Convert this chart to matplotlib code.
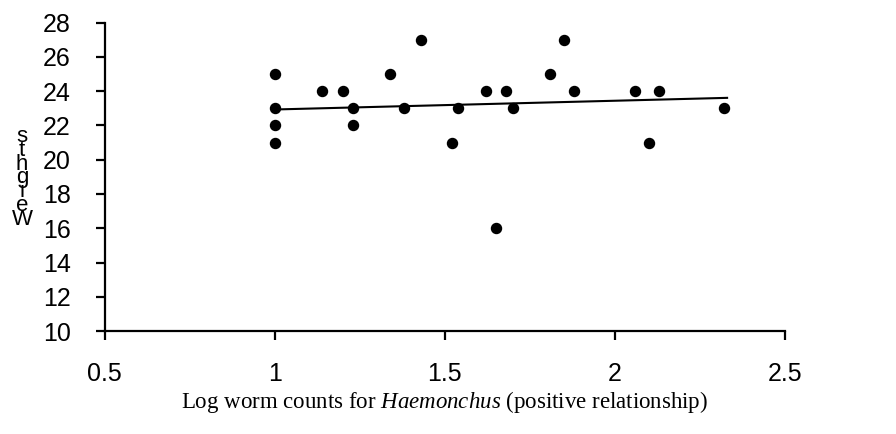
import matplotlib.pyplot as plt

plt.rcParams['font.family'] = ['Liberation Sans', 'DejaVu Sans']
plt.rcParams['mathtext.fontset'] = 'custom'
plt.rcParams['mathtext.it'] = 'Liberation Serif:italic'
plt.rcParams['mathtext.rm'] = 'Liberation Serif'

# log worm counts (Haemonchus) and weights
log_counts = [1.0, 1.0, 1.0, 1.0, 1.14, 1.20, 1.23, 1.23, 1.34, 1.43,
              1.38, 1.52, 1.54, 1.62, 1.68, 1.70, 1.65, 1.81, 1.85, 1.88,
              2.06, 2.13, 2.10, 2.32]
weights = [25, 23, 22, 21, 24, 24, 23, 22, 25, 27,
           23, 21, 23, 24, 24, 23, 16, 25, 27, 24,
           24, 24, 21, 23]

# trend line as drawn in the source
trend_slope = 0.51
trend_intercept = 22.42

x_ticks = [0.5, 1, 1.5, 2, 2.5]
x_tick_labels = ['0.5', '1', '1.5', '2', '2.5']
y_ticks = list(range(10, 29, 2))

fig = plt.figure(figsize=(8.96, 4.34), dpi=100)
ax = fig.add_axes([0.117, 0.237, 0.759, 0.711])

ax.scatter(log_counts, weights, s=52, color='black', zorder=3)

x0, x1 = min(log_counts), max(log_counts) + 0.01
ax.plot([x0, x1], [trend_slope * x0 + trend_intercept,
                   trend_slope * x1 + trend_intercept],
        color='black', lw=1.5)

ax.set_xlim(0.5, 2.5)
ax.set_ylim(10, 28)
ax.set_xticks(x_ticks)
ax.set_xticklabels(x_tick_labels)
ax.set_yticks(y_ticks)

for side in ['top', 'right']:
    ax.spines[side].set_visible(False)
for side in ['left', 'bottom']:
    ax.spines[side].set_linewidth(1.6)

ax.tick_params(axis='both', direction='out', length=6.5, width=1.6,
               labelsize=18, colors='black')
ax.tick_params(axis='y', pad=18)
ax.tick_params(axis='x', pad=16)

ax.set_xlabel(r'Log worm counts for $\it{Haemonchus}$ (positive relationship)',
              family='Liberation Serif', fontsize=16.5, labelpad=2)

# y label "Weights" stacked letter over letter, squeezed as in the source
fig.text(22 / 896, 1 - 178 / 434, '\n'.join(reversed('Weights')),
         fontsize=16, ha='center', va='center', linespacing=0.55)

fig.savefig('out.png', dpi=100)
